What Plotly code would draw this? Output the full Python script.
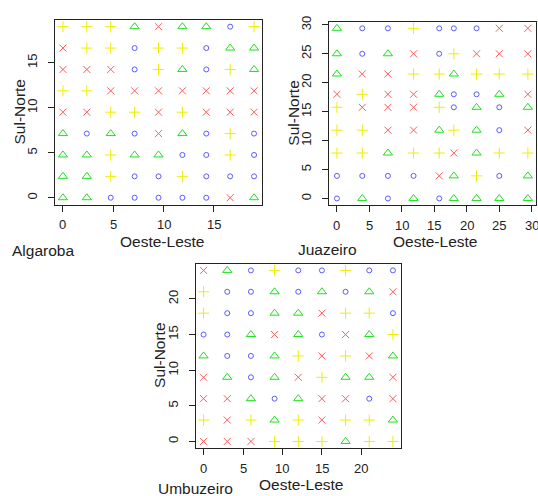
import plotly.graph_objects as go

# Grid coordinates (Oeste-Leste / Sul-Norte) for each stand
alg_pos = [0, 2.375, 4.75, 7.125, 9.5, 11.875, 14.25, 16.625, 19]
jua_pos = [0, 3.9, 7.85, 11.8, 15.75, 18, 21.5, 25, 29.4]
umb_pos = [0, 3, 6, 9, 12, 15, 18, 21, 24]

# Class of each plant, rows listed from north (top) to south (bottom)
# o = circle, t = triangle, p = plus, x = cross
alg_grid = [
    "ppptxttop",
    "xppoppott",
    "xxxoptopt",
    "ppxxxxxxx",
    "xxppxpxxx",
    "totoxtopo",
    "ttpttoopo",
    "ttpoopooo",
    "ttoooooxt",
]
jua_grid = [
    "toopoooxx",
    "totxopxxx",
    "txxpptppp",
    "xpxxtootx",
    "pxxxpotot",
    "ppxxtptox",
    "pptppxtpp",
    "ooooxtpot",
    "otototttto",
]
umb_grid = [
    "xtopoopoo",
    "pootototx",
    "poottxppo",
    "ootxtoxtp",
    "tootpxpxt",
    "xtotxpttx",
    "xxtotxxox",
    "pxptpxppt",
    "xxxppptpp",
]

x_ticks = {
    "alg": [0, 5, 10, 15],
    "jua": [0, 5, 10, 15, 20, 25, 30],
    "umb": [0, 5, 10, 15, 20],
}
y_ticks = {
    "alg": [0, 5, 10, 15],
    "jua": [0, 5, 10, 15, 20, 25, 30],
    "umb": [0, 5, 10, 15, 20],
}
names = {"alg": "Algaroba", "jua": "Juazeiro", "umb": "Umbuzeiro"}

W, H = 538, 496
FONT = "Liberation Sans, Arial, sans-serif"
INK = "#222"

styles = {
    "o": dict(symbol="circle-open", size=5, color="#5a5aff"),
    "t": dict(symbol="triangle-up-open", size=8, color="#1ee01e"),
    "p": dict(symbol="cross-thin-open", size=8, color="#eeee00"),
    "x": dict(symbol="x-thin-open", size=7, color="#ff5a5a"),
}

# pixel boxes of each plotting frame: left, top, right, bottom
frames = {
    "alg": (55.3, 14.0, 261.7, 201.0),
    "jua": (329.3, 15.7, 535.5, 201.7),
    "umb": (196.0, 260.7, 400.5, 447.7),
}
panels = [("alg", alg_pos, alg_grid), ("jua", jua_pos, jua_grid), ("umb", umb_pos, umb_grid)]

fig = go.Figure()
layout = dict(
    width=W, height=H, margin=dict(l=0, r=0, t=0, b=0),
    paper_bgcolor="white", plot_bgcolor="white", showlegend=False,
    font=dict(family=FONT, color=INK),
)
annotations = []

for i, (key, pos, grid) in enumerate(panels, start=1):
    xs = {c: [] for c in styles}
    ys = {c: [] for c in styles}
    nrow = len(grid)
    for r, row in enumerate(grid):
        yv = pos[nrow - 1 - r]
        for c, code in enumerate(row[:len(pos)]):
            xs[code].append(pos[c])
            ys[code].append(yv)
    ax = "" if i == 1 else str(i)
    for code, st in styles.items():
        fig.add_trace(go.Scatter(
            x=xs[code], y=ys[code], mode="markers",
            xaxis="x" + ax, yaxis="y" + ax,
            marker=dict(symbol=st["symbol"], size=st["size"], color=st["color"],
                        line=dict(width=1, color=st["color"])),
            hoverinfo="skip",
        ))
    lo, hi = min(pos), max(pos)
    pad = 0.04 * (hi - lo)
    rng = [lo - pad, hi + pad]
    l, t, r_, b = frames[key]
    common = dict(
        range=rng, showgrid=False, zeroline=False, showline=True, mirror=True,
        linecolor=INK, linewidth=1, ticks="outside", ticklen=6, tickwidth=1,
        tickcolor=INK, tickfont=dict(size=13, family=FONT, color=INK),
    )
    # x tick labels are placed as annotations below the frame
    layout["xaxis" + ax] = dict(
        common, domain=[l / W, r_ / W], anchor="y" + ax,
        tickvals=x_ticks[key], showticklabels=False,
    )
    layout["yaxis" + ax] = dict(
        common, domain=[1 - b / H, 1 - t / H], anchor="x" + ax,
        tickvals=y_ticks[key], tickangle=-90, ticklabelstandoff=6,
    )
    for v in x_ticks[key]:
        annotations.append(dict(
            text=str(v), x=v, xref="x" + ax, y=1 - (b + 20) / H, yref="paper",
            showarrow=False, xanchor="center", yanchor="middle",
            font=dict(size=13, family=FONT, color=INK),
        ))
    cx = (l + r_) / 2
    cy = (t + b) / 2
    annotations.append(dict(
        text="Oeste-Leste", x=(cx + 3) / W, y=1 - (b + 37) / H,
        xref="paper", yref="paper", showarrow=False,
        xanchor="center", yanchor="middle", font=dict(size=15.5, family=FONT, color=INK),
    ))
    annotations.append(dict(
        text="Sul-Norte", x=(l - 36) / W, y=1 - cy / H, textangle=-90,
        xref="paper", yref="paper", showarrow=False,
        xanchor="center", yanchor="middle", font=dict(size=15.5, family=FONT, color=INK),
    ))

label_pos = {"alg": (10, 247), "jua": (296, 246), "umb": (156, 488)}
for key, (px, py) in label_pos.items():
    annotations.append(dict(
        text=names[key], x=px / W, y=1 - py / H, xref="paper", yref="paper",
        showarrow=False, xanchor="left", yanchor="middle",
        font=dict(size=15.5, family=FONT, color=INK),
    ))

layout["annotations"] = annotations
fig.update_layout(**layout)
fig.write_html("out.html")
